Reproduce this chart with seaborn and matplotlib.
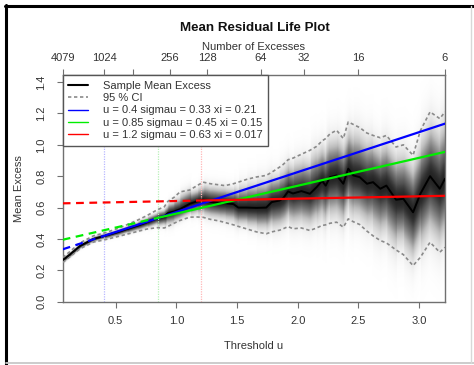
import numpy as np
import pandas as pd
import matplotlib
matplotlib.use("Agg")
import matplotlib.pyplot as plt
import seaborn as sns
from matplotlib.lines import Line2D

# ---------------- data ----------------
threshold = [0.063, 0.12, 0.206, 0.316, 0.40, 0.50, 0.59, 0.68, 0.755, 0.84,
             0.90, 0.93, 0.98, 1.03, 1.11, 1.17, 1.22, 1.28, 1.35, 1.40,
             1.47, 1.51, 1.58, 1.66, 1.74, 1.785, 1.85, 1.88, 1.92, 1.96,
             2.03, 2.10, 2.155, 2.20, 2.23, 2.265, 2.32, 2.375, 2.416, 2.457,
             2.51, 2.57, 2.62, 2.68, 2.73, 2.81, 2.87, 2.95, 3.01, 3.09,
             3.17, 3.213]
mean_excess = [0.265, 0.300, 0.356, 0.400, 0.418, 0.440, 0.463, 0.485, 0.506, 0.532,
               0.542, 0.565, 0.575, 0.590, 0.624, 0.640, 0.650, 0.637, 0.630, 0.628,
               0.622, 0.600, 0.600, 0.598, 0.600, 0.635, 0.645, 0.660, 0.703, 0.690,
               0.705, 0.688, 0.730, 0.770, 0.740, 0.794, 0.805, 0.752, 0.848, 0.805,
               0.794, 0.752, 0.762, 0.720, 0.740, 0.650, 0.656, 0.570, 0.688, 0.800,
               0.720, 0.784]
ci_lower = [0.250, 0.285, 0.338, 0.380, 0.393, 0.412, 0.430, 0.448, 0.463, 0.472,
            0.470, 0.480, 0.500, 0.518, 0.539, 0.540, 0.538, 0.525, 0.515, 0.505,
            0.490, 0.480, 0.464, 0.445, 0.433, 0.445, 0.456, 0.465, 0.479, 0.465,
            0.470, 0.454, 0.470, 0.486, 0.490, 0.500, 0.507, 0.475, 0.528, 0.510,
            0.492, 0.450, 0.420, 0.390, 0.375, 0.330, 0.300, 0.230, 0.283, 0.379,
            0.315, 0.347]
ci_upper = [0.282, 0.318, 0.375, 0.420, 0.437, 0.462, 0.490, 0.520, 0.548, 0.585,
            0.605, 0.640, 0.665, 0.700, 0.712, 0.740, 0.762, 0.752, 0.745, 0.740,
            0.752, 0.762, 0.780, 0.795, 0.805, 0.825, 0.858, 0.875, 0.905, 0.915,
            0.940, 0.965, 0.990, 1.025, 1.040, 1.070, 1.093, 1.040, 1.146, 1.130,
            1.110, 1.075, 1.060, 1.045, 1.060, 0.986, 1.000, 0.933, 1.090, 1.210,
            1.167, 1.210]

fit_labels = ["u = 0.4 sigmau = 0.33 xi = 0.21",
              "u = 0.85 sigmau = 0.45 xi = 0.15",
              "u = 1.2 sigmau = 0.63 xi = 0.017"]
fit_u0 = [0.4, 0.85, 1.2]
fit_left = [0.334, 0.395, 0.627]     # fitted mean excess at the left edge
fit_at_u0 = [0.419, 0.535, 0.645]    # at the chosen threshold
fit_right = [1.135, 0.955, 0.675]    # at the right edge
fit_colors = ["#0000ff", "#00ee00", "#ff0000"]
vline_colors = ["#b8b8ff", "#b8f0b8", "#ffb8b8"]

excess_labels = ["4079", "1024", "", "256", "128", "64", "32", "16", "6"]
excess_positions = [0.063, 0.404, 0.643, 0.947, 1.252, 1.697, 2.051, 2.496, 3.213]

x_ticks = [0.5, 1.0, 1.5, 2.0, 2.5, 3.0]
y_ticks = [0.0, 0.2, 0.4, 0.6, 0.8, 1.0, 1.2, 1.4]

XLIM = (0.063, 3.213)
YLIM = (0.0, 1.445)

# ---------------- style ----------------
sns.set_style("ticks")
plt.rcParams["font.family"] = ["Liberation Sans", "DejaVu Sans"]

AXC = "#707070"
TXC = "#333333"

fig = plt.figure(figsize=(4.74, 3.65), dpi=100)
ax = fig.add_axes([0.1323, 0.1734, 0.8065, 0.6211])

df = pd.DataFrame({"u": threshold, "mean": mean_excess,
                   "lower": ci_lower, "upper": ci_upper})

# ---------------- grey density shading ----------------
u_arr = np.asarray(threshold)
u_grid = np.linspace(XLIM[0], XLIM[1], 320)
y_grid = np.linspace(YLIM[0], YLIM[1], 420)
m = np.interp(u_grid, u_arr, mean_excess)
idx = np.clip(np.searchsorted(u_arr, u_grid, side="right") - 1, 0, len(u_arr) - 1)
s_up = (np.asarray(ci_upper)[idx] - np.asarray(mean_excess)[idx]) / 1.9
s_lo = (np.asarray(mean_excess)[idx] - np.asarray(ci_lower)[idx]) / 1.9
s_up = np.maximum(s_up, 0.01)
s_lo = np.maximum(s_lo, 0.01)
Y = y_grid[:, None]
d = Y - m[None, :]
s = np.where(d > 0, s_up[None, :], s_lo[None, :])
dens = np.exp(-0.5 * (d / s) ** 2)
ax.imshow(dens * 0.88, extent=[XLIM[0], XLIM[1], YLIM[0], YLIM[1]], origin="lower",
          aspect="auto", cmap="Greys", vmin=0, vmax=1, interpolation="bilinear", zorder=0)

# ---------------- threshold markers ----------------
for u0, c in zip(fit_u0, vline_colors):
    ax.axvline(u0, color=c, lw=0.9, ls=(0, (1, 1)), zorder=1)

# ---------------- CI and mean excess ----------------
sns.lineplot(data=df, x="u", y="upper", ax=ax, color="#8a8a8a", lw=1.2,
             linestyle=(0, (2, 1.6)), zorder=3)
sns.lineplot(data=df, x="u", y="lower", ax=ax, color="#8a8a8a", lw=1.2,
             linestyle=(0, (2, 1.6)), zorder=3)
sns.lineplot(data=df, x="u", y="mean", ax=ax, color="black", lw=1.4, zorder=4)

# ---------------- fitted lines ----------------
for i in range(3):
    dash_df = pd.DataFrame({"u": [XLIM[0], fit_u0[i]], "v": [fit_left[i], fit_at_u0[i]]})
    solid_df = pd.DataFrame({"u": [fit_u0[i], XLIM[1]], "v": [fit_at_u0[i], fit_right[i]]})
    sns.lineplot(data=dash_df, x="u", y="v", ax=ax, color=fit_colors[i], lw=1.6,
                 linestyle=(0, (3.5, 2.5)), zorder=5)
    sns.lineplot(data=solid_df, x="u", y="v", ax=ax, color=fit_colors[i], lw=1.6, zorder=5)

ax.set_xlim(XLIM)
ax.set_ylim(YLIM)

# ---------------- axes styling ----------------
for sp in ax.spines.values():
    sp.set_visible(True)
    sp.set_color(AXC)
    sp.set_linewidth(1.0)
ax.set_xticks(x_ticks)
ax.set_xticklabels([f"{v:.1f}" for v in x_ticks])
ax.set_yticks(y_ticks)
ax.set_yticklabels([f"{v:.1f}" for v in y_ticks], rotation=90, va="center")
ax.tick_params(axis="x", direction="out", length=4.3, width=0.8, color=AXC,
               labelsize=8, labelcolor=TXC, pad=6)
ax.tick_params(axis="y", direction="out", length=4.3, width=0.8, color=AXC,
               labelsize=8, labelcolor=TXC, pad=7.5)
ax.set_xlabel("Threshold u", fontsize=8, color=TXC, labelpad=11)
ax.set_ylabel("Mean Excess", fontsize=8, color=TXC, labelpad=9)

ax2 = ax.twiny()
ax2.set_xlim(XLIM)
ax2.set_xticks(excess_positions)
ax2.set_xticklabels(excess_labels)
ax2.tick_params(axis="x", direction="out", length=4.3, width=0.8, color=AXC,
                labelsize=8, labelcolor=TXC, pad=4.5)
for sp in ax2.spines.values():
    sp.set_visible(False)
ax2.set_xlabel("Number of Excesses", fontsize=8, color=TXC, labelpad=2)
ax2.grid(False)
ax.grid(False)

fig.text(0.538, 1 - 28 / 365, "Mean Residual Life Plot", ha="center", va="center",
         fontsize=9.6, fontweight="bold", color="#111111")

# ---------------- legend ----------------
handles = [Line2D([], [], color="black", lw=1.5),
           Line2D([], [], color="#8a8a8a", lw=1.2, ls=(0, (2, 1.6)))]
handles += [Line2D([], [], color=c, lw=1.0) for c in fit_colors]
labels = ["Sample Mean Excess", "95 % CI"] + fit_labels
leg = ax.legend(handles, labels, loc="upper left", bbox_to_anchor=(0, 1),
                borderaxespad=0, frameon=True, fancybox=False, fontsize=8,
                labelspacing=0.22, handlelength=1.75, handletextpad=1.4,
                borderpad=0.5, framealpha=1)
leg.get_frame().set_edgecolor("#555555")
leg.get_frame().set_linewidth(1.0)
leg.set_zorder(10)
for t in leg.get_texts():
    t.set_color(TXC)

# ---------------- screenshot frame ----------------
fig.add_artist(Line2D([6 / 474, 6 / 474], [0, 1 - 5 / 365], transform=fig.transFigure,
                      color="black", lw=2.2))
fig.add_artist(Line2D([5 / 474, 1], [1 - 6 / 365, 1 - 6 / 365], transform=fig.transFigure,
                      color="black", lw=2.2))
fig.add_artist(Line2D([6 / 474, 1], [2 / 365, 2 / 365], transform=fig.transFigure,
                      color="#c8c8c8", lw=1.3))
fig.add_artist(Line2D([471 / 474, 471 / 474], [2 / 365, 1 - 6 / 365], transform=fig.transFigure,
                      color="#d8d8d8", lw=1.0))

fig.savefig("out.png", dpi=100, facecolor="white")
